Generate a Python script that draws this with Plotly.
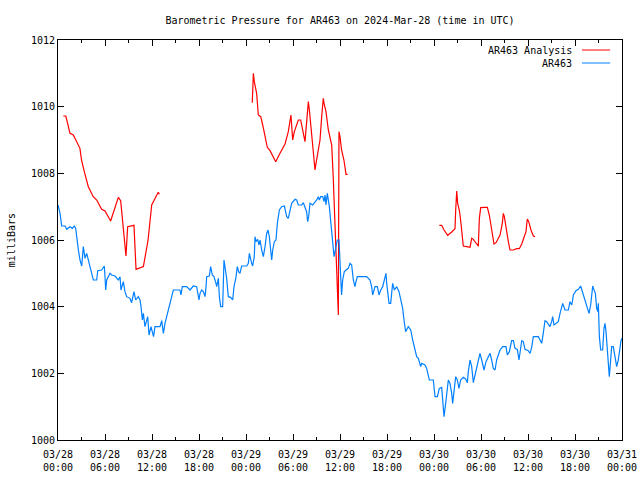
import pandas as pd
import plotly.graph_objects as go

BASE = pd.Timestamp("2024-03-28 00:00")

# AR463 observations: hours since 2024-03-28 00:00 UTC, pressure (mb)
obs_hours = [0.0, 0.13, 0.26, 0.47, 0.9, 1.11, 1.53, 1.83, 2.08, 2.26, 2.38, 2.6, 2.81, 3.03, 3.23, 3.45,
             3.66, 3.87, 4.09, 4.3, 4.51, 4.94, 5.07, 5.57, 5.91, 6.0, 6.09, 6.22, 6.43, 6.64, 6.85, 7.28,
             7.7, 7.92, 8.04, 8.34, 8.55, 8.77, 9.19, 9.4, 9.7, 9.92, 10.25, 10.47, 10.6, 10.77, 10.9, 11.1,
             11.45, 11.62, 11.87, 12.04, 12.2, 12.38, 13.02, 13.24, 13.45, 13.66, 14.08, 14.5, 14.72, 15.57,
             15.7, 15.87, 16.43, 16.85, 17.07, 17.28, 17.7, 17.83, 18.0, 18.13, 18.34, 18.55, 18.77, 18.9,
             18.98, 19.32, 19.49, 19.7, 19.91, 20.17, 20.26, 20.47, 20.6, 20.77, 21.02, 21.19, 21.53, 21.74,
             22.04, 22.3, 22.47, 22.72, 22.89, 23.06, 23.23, 23.45, 24.09, 24.3, 24.43, 24.72, 24.85, 25.06,
             25.15, 25.28, 25.49, 25.66, 25.79, 26.0, 26.21, 26.43, 26.64, 26.81, 26.98, 27.15, 27.28, 27.41,
             27.62, 27.83, 28.0, 28.26, 28.55, 28.9, 29.2, 29.4, 29.62, 29.83, 30.26, 30.47, 30.68, 31.11,
             31.32, 31.53, 31.74, 31.87, 32.0, 32.17, 32.51, 32.68, 33.02, 33.23, 33.36, 33.53, 33.79, 33.96,
             34.09, 34.21, 34.38, 34.64, 34.81, 35.07, 35.24, 35.49, 35.66, 35.87, 36.0, 36.2, 36.34, 36.55,
             36.77, 37.06, 37.28, 37.49, 37.7, 37.91, 38.04, 38.21, 39.4, 39.83, 40.04, 40.17, 40.47, 40.77,
             40.98, 41.2, 41.45, 41.66, 41.87, 41.96, 42.09, 42.26, 42.47, 42.72, 42.94, 43.24, 43.53, 43.75,
             44.0, 44.17, 44.38, 44.72, 45.03, 45.28, 45.57, 45.79, 46.0, 46.13, 46.3, 46.43, 46.85, 47.06,
             47.28, 47.4, 47.91, 48.13, 48.43, 48.55, 48.68, 48.98, 49.11, 49.28, 49.49, 49.7, 49.83, 50.04,
             50.26, 50.38, 50.55, 50.77, 50.98, 51.19, 51.4, 51.74, 52.04, 52.26, 52.38, 52.6, 52.81, 53.02,
             53.24, 53.45, 53.66, 53.87, 54.09, 54.38, 54.64, 54.81, 55.15, 55.36, 55.57, 55.79, 56.0, 56.21,
             56.43, 56.77, 57.19, 57.36, 57.62, 57.91, 58.13, 58.34, 58.64, 58.85, 59.07, 59.2, 59.4, 59.62,
             60.04, 60.26, 60.47, 60.68, 61.32, 61.53, 61.75, 61.96, 62.17, 62.38, 62.6, 62.81, 63.02, 63.15,
             63.32, 63.66, 63.87, 64.09, 64.3, 64.43, 64.72, 65.15, 65.36, 65.58, 65.7, 65.79, 66.13, 66.43,
             66.72, 66.94, 67.15, 67.36, 67.62, 67.79, 68.0, 68.26, 68.43, 68.6, 68.77, 68.9, 68.98, 69.11,
             69.28, 69.53, 69.7, 69.83, 69.96, 70.13, 70.26, 70.38, 70.55, 70.68, 70.89, 71.11, 71.32, 71.53,
             71.74, 71.87, 72.0]
obs_mb = [1007.05, 1006.95, 1006.8, 1006.42, 1006.42, 1006.32, 1006.4, 1006.35, 1006.42, 1006.35, 1006.05,
          1005.7, 1005.4, 1005.22, 1005.8, 1005.45, 1005.6, 1005.4, 1005.2, 1005.0, 1004.8, 1004.8, 1005.08,
          1005.1, 1005.22, 1004.9, 1004.5, 1004.8, 1004.9, 1005.0, 1004.95, 1004.92, 1004.8, 1004.9, 1004.5,
          1004.75, 1004.45, 1004.3, 1004.25, 1004.12, 1004.45, 1004.2, 1004.3, 1004.2, 1004.0, 1003.6, 1003.8,
          1003.4, 1003.7, 1003.15, 1003.4, 1003.2, 1003.1, 1003.4, 1003.4, 1003.58, 1003.2, 1003.5, 1003.9,
          1004.25, 1004.5, 1004.5, 1004.35, 1004.6, 1004.6, 1004.5, 1004.55, 1004.62, 1004.6, 1004.4, 1004.2,
          1004.4, 1004.5, 1004.45, 1004.3, 1004.6, 1004.9, 1004.92, 1005.2, 1004.95, 1004.9, 1004.7, 1004.6,
          1004.85, 1004.3, 1004.0, 1004.0, 1005.4, 1004.85, 1004.3, 1004.28, 1004.2, 1004.6, 1004.88, 1005.2,
          1005.05, 1005.0, 1005.22, 1005.22, 1005.3, 1005.6, 1005.3, 1005.22, 1005.5, 1006.1, 1005.95, 1006.02,
          1005.85, 1006.0, 1005.7, 1005.5, 1005.8, 1006.2, 1006.3, 1006.1, 1005.7, 1005.4, 1005.7, 1005.95,
          1006.0, 1006.5, 1006.9, 1007.0, 1007.02, 1006.7, 1006.65, 1006.9, 1007.1, 1007.22, 1007.2, 1007.05,
          1007.05, 1007.12, 1006.98, 1006.85, 1006.55, 1006.7, 1007.1, 1007.05, 1007.1, 1007.2, 1007.3, 1007.2,
          1007.3, 1007.3, 1007.15, 1007.35, 1007.05, 1007.4, 1007.0, 1006.5, 1006.0, 1005.5, 1005.8, 1006.0,
          1006.0, 1005.2, 1004.35, 1004.8, 1005.05, 1005.1, 1005.15, 1005.3, 1005.25, 1004.8, 1004.6, 1004.75,
          1004.9, 1004.9, 1004.8, 1004.6, 1004.35, 1004.6, 1004.6, 1004.35, 1004.5, 1004.6, 1004.8, 1005.0,
          1004.7, 1004.4, 1004.1, 1004.1, 1004.7, 1004.5, 1004.6, 1004.45, 1004.2, 1003.95, 1003.6, 1003.25,
          1003.4, 1003.3, 1003.0, 1002.65, 1002.5, 1002.45, 1002.3, 1002.2, 1002.3, 1002.25, 1002.15, 1001.95,
          1001.8, 1001.8, 1001.3, 1001.3, 1001.4, 1001.55, 1001.58, 1001.1, 1000.7, 1001.1, 1001.5, 1001.8,
          1001.7, 1001.4, 1001.1, 1001.4, 1001.9, 1001.8, 1001.55, 1001.8, 1001.88, 1001.83, 1001.72, 1002.05,
          1002.4, 1002.2, 1001.72, 1001.95, 1002.2, 1002.4, 1002.6, 1002.4, 1002.1, 1002.35, 1002.45, 1002.6,
          1002.4, 1002.15, 1002.1, 1002.4, 1002.55, 1002.7, 1002.8, 1002.8, 1002.55, 1002.65, 1002.98, 1002.98,
          1002.75, 1002.72, 1002.4, 1002.8, 1002.98, 1002.95, 1002.72, 1002.68, 1002.6, 1002.78, 1003.1, 1003.1,
          1003.0, 1002.9, 1003.22, 1003.58, 1003.55, 1003.45, 1003.4, 1003.55, 1003.7, 1003.45, 1003.52, 1003.55,
          1003.8, 1004.0, 1004.1, 1003.9, 1003.9, 1004.15, 1004.05, 1004.2, 1004.35, 1004.48, 1004.52, 1004.62,
          1004.45, 1004.25, 1004.15, 1003.95, 1003.8, 1004.05, 1004.62, 1004.5, 1004.4, 1003.95, 1003.85, 1004.1,
          1003.1, 1002.7, 1002.7, 1003.35, 1003.5, 1003.25, 1002.75, 1002.1, 1001.9, 1002.4, 1002.8, 1002.8,
          1002.5, 1002.2, 1002.4, 1002.8, 1002.98, 1003.05]

# AR463 Analysis: three segments (None = gap)
ana_hours = [0.68, 1.0, 1.53, 1.96, 2.8, 3.0, 3.36, 3.66, 3.87, 4.5, 4.94, 5.57, 6.0, 6.72, 7.28, 7.7, 8.0,
             8.34, 8.68, 8.89, 9.7, 9.96, 10.4, 10.9, 11.5, 11.96, 12.8, 12.94,
             18.0,
             24.8, 24.94, 25.06, 25.36, 25.57, 25.88, 26.13, 26.43, 26.72, 27.07, 27.79, 28.34, 28.98, 29.4,
             29.74, 29.96, 30.17, 30.68, 30.98, 31.53, 31.96, 32.09, 32.81, 32.94, 33.45, 33.66, 33.87, 33.96,
             34.21, 34.51, 34.94, 35.15, 35.36, 35.58, 35.66, 35.79, 35.87, 36.0, 36.2, 36.5, 36.77, 36.98,
             42.0,
             48.68, 48.98, 49.28, 49.75, 50.26, 50.68, 50.77, 50.9, 51.02, 51.23, 51.4, 51.57, 51.74, 52.17,
             52.6, 52.81, 53.02, 53.45, 53.66, 53.79, 53.96, 54.51, 54.81, 55.06, 55.37, 55.66, 55.92, 56.43,
             56.72, 56.85, 56.98, 57.19, 57.49, 57.7, 58.13, 58.55, 58.89, 59.2, 59.49, 59.74, 59.91, 60.09,
             60.38, 60.68, 60.9]
ana_mb = [1009.72, 1009.72, 1009.2, 1009.15, 1008.75, 1008.4, 1008.05, 1007.75, 1007.6, 1007.3, 1007.2,
          1006.92, 1006.87, 1006.57, 1006.95, 1007.28, 1007.18, 1006.4, 1005.52, 1006.4, 1006.44, 1005.12,
          1005.15, 1005.2, 1006.0, 1007.05, 1007.43, 1007.37,
          None,
          1010.12, 1011.0, 1010.75, 1010.4, 1009.75, 1009.7, 1009.45, 1009.15, 1008.78, 1008.68, 1008.35,
          1008.6, 1008.88, 1009.25, 1009.75, 1009.0, 1009.25, 1009.6, 1009.6, 1008.95, 1010.15, 1009.9,
          1008.1, 1008.3, 1009.0, 1009.7, 1010.25, 1010.1, 1009.85, 1009.3, 1008.85, 1007.8, 1006.4, 1004.6,
          1004.1, 1003.75, 1009.25, 1009.1, 1008.7, 1008.4, 1007.97, 1007.97,
          None,
          1006.44, 1006.44, 1006.3, 1006.14, 1006.24, 1006.34, 1006.9, 1007.47, 1007.1, 1006.9, 1006.6,
          1006.15, 1005.82, 1005.8, 1005.78, 1006.05, 1006.02, 1005.88, 1005.82, 1006.65, 1006.97, 1006.98,
          1006.98, 1006.75, 1006.3, 1005.88, 1005.92, 1006.15, 1006.5, 1006.8, 1006.7, 1006.35, 1005.95,
          1005.7, 1005.7, 1005.74, 1005.74, 1005.88, 1006.05, 1006.25, 1006.63, 1006.55, 1006.3, 1006.12,
          1006.1]

series_names = ["AR463 Analysis", "AR463"]
series_colors = ["#ff0000", "#0080ff"]

def to_time(hours):
    return [BASE + pd.Timedelta(hours=h) for h in hours]

FONT = "DejaVu Sans Mono"

fig = go.Figure()
fig.add_trace(go.Scatter(x=to_time(ana_hours), y=ana_mb, mode="lines", name=series_names[0],
                         line=dict(color=series_colors[0], width=1.2), connectgaps=False,
                         showlegend=False))
fig.add_trace(go.Scatter(x=to_time(obs_hours), y=obs_mb, mode="lines", name=series_names[1],
                         line=dict(color=series_colors[1], width=1.2), showlegend=False))

# legend drawn gnuplot-style (text right, sample line after it)
leg_y = [0.975, 0.9425]
for name, color, yy in zip(series_names, series_colors, leg_y):
    fig.add_annotation(text=name, xref="paper", yref="paper", x=0.915, y=yy,
                       xanchor="right", yanchor="middle", showarrow=False,
                       font=dict(family=FONT, size=10, color="black"))
    fig.add_shape(type="line", xref="paper", yref="paper", x0=0.929, x1=0.979, y0=yy, y1=yy,
                  line=dict(color=color, width=1))

fig.add_annotation(text="milliBars", xref="paper", yref="paper", x=-0.083, y=0.5,
                   xanchor="center", yanchor="middle", textangle=-90, showarrow=False,
                   font=dict(family=FONT, size=10, color="black"))

fig.update_layout(
    width=640, height=480, autosize=False,
    margin=dict(l=58, r=18, t=40, b=40, autoexpand=False),
    paper_bgcolor="white", plot_bgcolor="white",
    font=dict(family=FONT, size=10, color="black"),
    title=dict(text="Barometric Pressure for AR463 on 2024-Mar-28 (time in UTC)",
               x=0.5, xref="paper", xanchor="center", y=1 - 20 / 480, yref="container",
               yanchor="middle", automargin=False, font=dict(family=FONT, size=10, color="black")),
    xaxis=dict(type="date", range=["2024-03-28 00:00", "2024-03-31 00:00"], automargin=False,
               tick0="2024-03-28 00:00", dtick=6 * 3600 * 1000, tickformat="%m/%d<br>%H:%M",
               ticks="inside", ticklen=6, tickcolor="black", showline=True, linecolor="black",
               linewidth=1, mirror="allticks", showgrid=False, zeroline=False,
               ticklabelstandoff=5,
               minor=dict(dtick=3 * 3600 * 1000, ticks="inside", ticklen=3, tickcolor="black",
                          showgrid=False),
               tickfont=dict(family=FONT, size=10, color="black")),
    yaxis=dict(range=[1000, 1012], dtick=2, ticks="inside", ticklen=6, tickcolor="black",
               automargin=False,
               showline=True, linecolor="black", linewidth=1, mirror="allticks",
               showgrid=False, zeroline=False,
               tickfont=dict(family=FONT, size=10, color="black")),
)

fig.write_html("out.html", config={"displayModeBar": False},
               post_script="document.body.style.margin='0px';document.body.style.padding='0px';")
